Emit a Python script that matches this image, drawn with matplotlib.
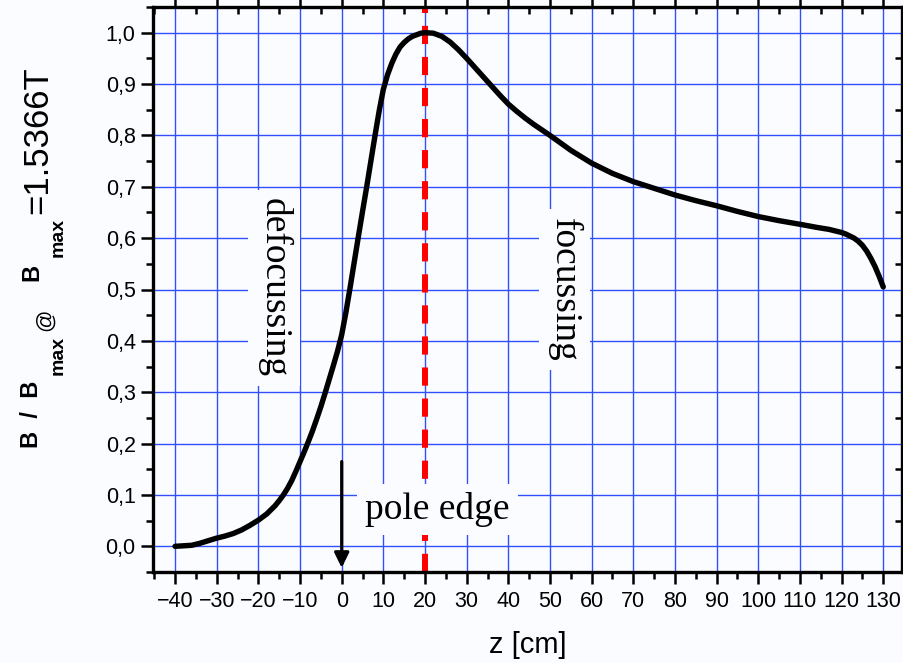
import matplotlib
matplotlib.use("Agg")
import matplotlib.pyplot as plt
from matplotlib.ticker import MultipleLocator, FuncFormatter

# Normalised field profile along the beam axis
z_cm = [-40, -38, -36, -34, -32, -30, -28, -26, -24, -22, -20, -18, -16, -15,
        -14, -13, -12, -11, -10, -9, -8, -7, -6, -5, -4, -3, -2, -1,
        0, 1, 2, 3, 4, 5, 6, 7, 8, 9, 10, 11, 12, 13, 14, 15, 16, 17, 18, 19,
        20, 22, 24, 26, 28, 30, 32, 34, 36, 38, 40, 42, 44, 46, 48, 50,
        55, 60, 65, 70, 75, 80, 85, 90, 95, 100, 105, 110, 114, 117, 119,
        120, 121, 122, 123, 124, 125, 126, 127, 128, 129, 130]
b_norm = [0.000, 0.001, 0.002, 0.006, 0.011, 0.016, 0.020, 0.025, 0.032, 0.041,
          0.051, 0.063, 0.079, 0.089,
          0.100, 0.113, 0.128, 0.146, 0.165, 0.184, 0.204, 0.225, 0.248, 0.272,
          0.298, 0.325, 0.352, 0.380,
          0.412, 0.455, 0.503, 0.553, 0.603, 0.652, 0.700, 0.750, 0.800, 0.848,
          0.890, 0.918, 0.940, 0.958, 0.972, 0.981, 0.988, 0.993, 0.996, 0.999,
          1.000, 0.999, 0.993, 0.982, 0.967, 0.950, 0.932, 0.914, 0.896, 0.878,
          0.861, 0.847, 0.834, 0.822, 0.811, 0.800,
          0.771, 0.746, 0.726, 0.710, 0.697, 0.684, 0.673, 0.663, 0.652, 0.642,
          0.634, 0.627, 0.621, 0.617, 0.613,
          0.611, 0.608, 0.604, 0.600, 0.594, 0.586, 0.575, 0.561, 0.545, 0.526,
          0.505]

z_peak = 20          # position of the field maximum
z_pole = 0           # pole edge
x_ticks = list(range(-40, 131, 10))
y_ticks = [round(0.1 * i, 1) for i in range(11)]

sans = "Liberation Sans"
serif = "Liberation Serif"
plt.rcParams["font.family"] = sans

W, H = 904, 663
fig = plt.figure(figsize=(W / 100, H / 100), dpi=100)
bg = "#fbfcff"
fig.patch.set_facecolor(bg)
ax = fig.add_axes([153 / W, 1 - 572 / H, (902 - 153) / W, (572 - 7) / H])
ax.set_facecolor(bg)

ax.set_xlim(-45.3, 134.5)
ax.set_ylim(-0.05, 1.05)

grid_col = "#3050ff"
for xv in x_ticks:
    ax.axvline(xv, color=grid_col, lw=1.0, zorder=1)
for yv in y_ticks:
    ax.axhline(yv, color=grid_col, lw=1.0, zorder=1)

ax.plot(z_cm, b_norm, color="black", lw=3.9, solid_capstyle="round",
        solid_joinstyle="round", zorder=4)
ax.axvline(z_peak, color="#ff0000", lw=4.3, dashes=(3.05, 2.15), zorder=3)

box = dict(facecolor=bg, edgecolor="none", pad=6)
ax.text(-16.2, 0.503, "defocussing", rotation=270, fontsize=27, family=serif,
        ha="center", va="center", bbox=box, zorder=5)
ax.text(53.5, 0.50, "focussing", rotation=270, fontsize=27, family=serif,
        ha="center", va="center", bbox=box, zorder=5)
ax.text(22.9, 0.072, "pole edge", fontsize=27, family=serif,
        ha="center", va="center", bbox=box, zorder=5)

ax.annotate("", xy=(z_pole, -0.042), xytext=(z_pole, 0.165),
            arrowprops=dict(arrowstyle="-|>,head_length=0.45,head_width=0.22",
                            color="black", lw=2.3, shrinkA=0, shrinkB=0,
                            mutation_scale=20),
            zorder=6)

ax.set_xticks(x_ticks)
ax.set_yticks(y_ticks)
ax.xaxis.set_minor_locator(MultipleLocator(5))
ax.yaxis.set_minor_locator(MultipleLocator(0.05))
ax.yaxis.set_major_formatter(FuncFormatter(lambda v, p: f"{v:.1f}".replace(".", ",")))
ax.tick_params(which="both", top=True, right=True, width=1.8, color="black",
               direction="out", labelsize=15.5, labelfontfamily=sans)
ax.tick_params(which="major", length=8.5)
ax.tick_params(which="minor", length=5)
for t in ax.xaxis.get_major_ticks() + ax.xaxis.get_minor_ticks():
    t.tick2line.set_marker(3)  # inward ticks on the top edge
for t in ax.yaxis.get_major_ticks() + ax.yaxis.get_minor_ticks():
    t.tick2line.set_marker(0)  # inward ticks on the right edge
ax.tick_params(axis="x", which="major", pad=5)
ax.tick_params(axis="y", which="major", pad=4)
for s in ax.spines.values():
    s.set_linewidth(2.4)
    s.set_zorder(7)

ax.set_xlabel("z [cm]", family=sans, fontsize=21, labelpad=14)

# y-axis label assembled from pieces (start pixel, baseline pixel, text, size, weight)
pieces = [
    (448, 38, "B  /  B", 17, "bold"),
    (375, 63, "max", 14, "bold"),
    (331, 51, "@", 16, "normal"),
    (281, 38, "B", 17, "bold"),
    (257, 63, "max", 14, "bold"),
    (214, 47, "=1.5366T", 25, "normal"),
]
for y0, xb, txt, size, weight in pieces:
    fig.text(xb / W, 1 - y0 / H, txt, rotation=90, rotation_mode="anchor",
             ha="left", va="baseline", fontsize=size, fontweight=weight,
             family=sans)

fig.savefig("out.png", dpi=100, facecolor=bg)
